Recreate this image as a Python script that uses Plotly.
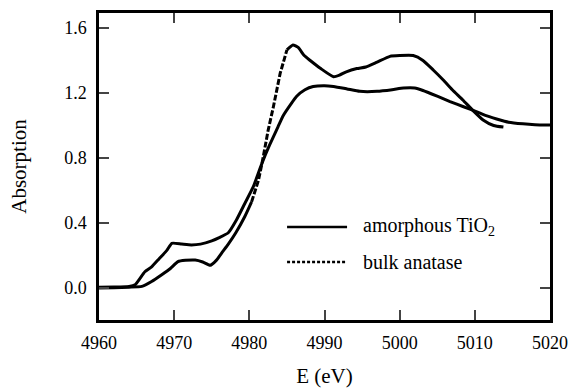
import plotly.graph_objects as go

# amorphous TiO2 (solid)
amorph_E = [4960, 4962, 4964, 4964.8, 4966.1, 4967, 4968, 4969, 4969.7, 4971, 4972.3, 4973.5,
            4975, 4976, 4977.2, 4978.3, 4979.4, 4980.5, 4981.7, 4982.7, 4983.8, 4984.5, 4985.5,
            4986.3, 4987.4, 4988.5, 4990, 4991.2, 4993, 4994.7, 4997, 4999, 5000.5, 5002, 5003.1,
            5005, 5006.7, 5008.5, 5010.2, 5011.5, 5012.9, 5014.5, 5016.4, 5018, 5020]
amorph_A = [0.005, 0.006, 0.01, 0.02, 0.10, 0.13, 0.18, 0.23, 0.275, 0.27, 0.265, 0.27,
            0.29, 0.31, 0.34, 0.42, 0.52, 0.62, 0.77, 0.88, 0.99, 1.06, 1.13,
            1.18, 1.22, 1.24, 1.245, 1.24, 1.225, 1.21, 1.21, 1.22, 1.23, 1.23, 1.215,
            1.18, 1.147, 1.115, 1.085, 1.06, 1.04, 1.02, 1.01, 1.005, 1.003]

# bulk anatase (dotted)
anat_E = [4960, 4962, 4964, 4965.7, 4967, 4968.3, 4969.5, 4970.5, 4971.5, 4972.8, 4973.8,
          4974.8, 4975.6, 4976.4, 4977.2, 4978.2, 4979.4, 4980.3, 4981.2, 4981.7, 4982.5,
          4983.2, 4984.1, 4985.0, 4985.8, 4986.5, 4987.3, 4988.1, 4989.5, 4991.2, 4992, 4992.9,
          4994.3, 4995.5, 4997, 4998.7, 5000, 5001.8, 5003.1, 5004.5, 5005.8, 5007, 5008.4,
          5009.8, 5011.1, 5012.5, 5013.8]
anat_A = [0.0, 0.002, 0.005, 0.01, 0.04, 0.08, 0.12, 0.162, 0.17, 0.172, 0.16,
          0.14, 0.17, 0.22, 0.27, 0.34, 0.44, 0.53, 0.66, 0.77, 0.97,
          1.115, 1.32, 1.465, 1.495, 1.48, 1.43, 1.40, 1.35, 1.30, 1.31, 1.33,
          1.35, 1.36, 1.39, 1.425, 1.43, 1.43, 1.40, 1.34, 1.28, 1.22, 1.157,
          1.09, 1.034, 1.0, 0.99]

x_ticks = [4960, 4970, 4980, 4990, 5000, 5010, 5020]
y_ticks = [0.0, 0.4, 0.8, 1.2, 1.6]

FONT = "Liberation Serif"
fig = go.Figure()

solid = dict(color="black", width=3, shape="spline", smoothing=0.5)
fig.add_trace(go.Scatter(x=amorph_E, y=amorph_A, mode="lines", line=solid, showlegend=False))

# anatase: dense-dot regions look solid, steep rise shows as dashed
i0 = anat_E.index(4980.3)
i1 = anat_E.index(4985.0)
fig.add_trace(go.Scatter(x=anat_E[:i0 + 1], y=anat_A[:i0 + 1], mode="lines",
                         line=solid, showlegend=False))
fig.add_trace(go.Scatter(x=anat_E[i0:i1 + 1], y=anat_A[i0:i1 + 1], mode="lines",
                         line=dict(color="black", width=3, dash="6px,2px"),
                         showlegend=False))
fig.add_trace(go.Scatter(x=anat_E[i1:], y=anat_A[i1:], mode="lines",
                         line=solid, showlegend=False))

# manual legend
fig.add_shape(type="line", xref="paper", yref="paper", x0=0.417, x1=0.550, y0=0.303, y1=0.303,
              line=dict(color="black", width=2.5))
fig.add_shape(type="line", xref="paper", yref="paper", x0=0.417, x1=0.550, y0=0.189, y1=0.189,
              line=dict(color="black", width=2.5, dash="3px,2px"))
fig.add_annotation(xref="paper", yref="paper", x=0.582, y=0.303, xanchor="left", yanchor="middle",
                   text="amorphous TiO<sub>2</sub>", showarrow=False,
                   font=dict(family=FONT, size=20, color="black"))
fig.add_annotation(xref="paper", yref="paper", x=0.582, y=0.189, xanchor="left", yanchor="middle",
                   text="bulk anatase", showarrow=False,
                   font=dict(family=FONT, size=20, color="black"))

fig.update_layout(
    width=572, height=388,
    margin=dict(l=99, r=22, t=13, b=68),
    paper_bgcolor="white", plot_bgcolor="white",
    font=dict(family=FONT, size=18, color="black"),
    xaxis=dict(range=[4960, 5020], tickvals=x_ticks, ticks="inside", ticklen=10, tickwidth=2,
               showline=True, linewidth=2.5, linecolor="black", mirror="ticks",
               showgrid=False, zeroline=False, automargin=False,
               title=dict(text="E (eV)", standoff=20, font=dict(size=21)),
               tickfont=dict(size=18), ticklabelstandoff=5),
    yaxis=dict(range=[-0.197, 1.692], tickvals=y_ticks, tickformat=".1f", ticks="inside",
               ticklen=10, tickwidth=2, showline=True, linewidth=2.5, linecolor="black",
               mirror="ticks", showgrid=False, zeroline=False, automargin=False,
               title=dict(text="Absorption", standoff=32, font=dict(size=21)),
               tickfont=dict(size=18), ticklabelstandoff=6),
)

fig.write_html("out.html")
